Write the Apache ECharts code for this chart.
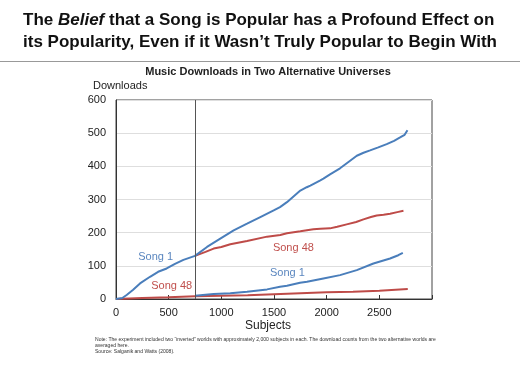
<!DOCTYPE html>
<html><head><meta charset="utf-8">
<script src="https://cdn.jsdelivr.net/npm/echarts@6/dist/echarts.min.js"></script>
<style>html,body{margin:0;padding:0;background:#fff}#c{width:520px;height:371px}</style>
</head><body><div id="c"></div>
<script>
// Data
const splitAt = 750;
const xTicks = [0, 500, 1000, 1500, 2000, 2500];
const song1World1X = [0,60,101,160,228,323,400,481,560,640,750,864,990,1117,1244,1370,1497,1557,1623,1750,1811,1845,1940,1969,2032,2127,2210,2286,2350,2412,2490,2570,2640,2697,2740,2767];
const song1World1Y = [0,3,12,27,47,67,82,92,106,118,130,157,182,207,227,247,267,277,292,327,337,342,358,363,376,394,414,432,441,448,457,467,477,487,495,509];
const song48World1X = [0,250,500,750,1000,1250,1500,1750,2000,2250,2500,2770];
const song48World1Y = [0,3,5,8,10,11,14,17,20,22,25,30];
const song48World2X = [750,850,927,1000,1085,1244,1434,1560,1623,1750,1874,1940,2032,2100,2190,2280,2349,2420,2475,2540,2602,2670,2729];
const song48World2Y = [130,142,152,157,165,175,188,193,198,204,210,212,213,218,225,232,240,247,252,254,257,262,266];
const song1World2X = [750,850,927,1085,1244,1434,1557,1623,1747,1813,1969,2127,2286,2444,2602,2680,2723];
const song1World2Y = [10,13,15,17,22,29,37,40,49,52,62,72,87,107,122,132,139];

const blue = '#4a7ebb', red = '#be4b48';
const blueTxt = '#5a86bf', redTxt = '#c0504d';
const zip = (xs, ys) => xs.map((x, i) => [x, ys[i]]);
const font = '"Liberation Sans", Arial, sans-serif';

function lineSeries(name, xs, ys, color, label, lx, ly) {
  return {
    name, type: 'line', data: zip(xs, ys), showSymbol: false, symbol: 'none',
    lineStyle: {color, width: 2}, itemStyle: {color}, animation: false, z: 3,
    markPoint: label ? {
      symbol: 'circle', symbolSize: 0, silent: true,
      data: [{coord: [lx, ly], value: label}],
      label: {show: true, position: 'inside', formatter: label, color: color === blue ? blueTxt : redTxt, fontSize: 11, fontFamily: font}
    } : undefined
  };
}

const chart = echarts.init(document.getElementById('c'), null, {renderer: 'canvas'});
chart.setOption({
  animation: false,
  textStyle: {fontFamily: font},
  grid: {left: 116, right: 88, top: 100, bottom: 72, show: true, borderColor: '#444', borderWidth: 1, backgroundColor: 'transparent'},
  xAxis: {
    type: 'value', min: 0, max: 3000, interval: 500,
    axisLine: {lineStyle: {color: '#333', width: 1}},
    axisTick: {inside: true, length: 4, lineStyle: {color: '#333'}},
    splitLine: {show: false},
    axisLabel: {color: '#222', fontSize: 11, margin: 8, fontFamily: font, formatter: v => xTicks.includes(v) ? String(v) : ''}
  },
  yAxis: {
    type: 'value', min: 0, max: 600, interval: 100,
    axisLine: {show: true, lineStyle: {color: '#333', width: 1}},
    axisTick: {show: false},
    splitLine: {lineStyle: {color: '#dedede', width: 1}},
    axisLabel: {color: '#222', fontSize: 11, margin: 10, fontFamily: font}
  },
  series: [
    lineSeries('Song 48 (world 1)', song48World1X, song48World1Y, red, 'Song 48', 529, 39),
    lineSeries('Song 1 (world 2)', song1World2X, song1World2Y, blue, 'Song 1', 1627, 78),
    lineSeries('Song 48 (world 2)', song48World2X, song48World2Y, red, 'Song 48', 1684, 155),
    Object.assign(lineSeries('Song 1 (world 1)', song1World1X, song1World1Y, blue, 'Song 1', 377, 128), {
      markLine: {silent: true, symbol: 'none', label: {show: false}, lineStyle: {color: '#555', width: 1, type: 'solid'}, data: [{xAxis: splitAt}]}
    })
  ],
  graphic: [
    {type: 'text', left: 'center', top: 9, style: {
      text: '{b|The }{i|Belief}{b| that a Song is Popular has a Profound Effect on}\n{b|its Popularity, Even if it Wasn\u2019t Truly Popular to Begin With}',
      align: 'center', lineHeight: 22,
      rich: {
        b: {fontSize: 17, fontWeight: 'bold', fontFamily: font, fill: '#111', lineHeight: 22},
        i: {fontSize: 17, fontWeight: 'bold', fontStyle: 'italic', fontFamily: font, fill: '#111', lineHeight: 22}
      }}},
    {type: 'line', shape: {x1: 0, y1: 61.5, x2: 520, y2: 61.5}, style: {stroke: '#999', lineWidth: 1}},
    {type: 'text', x: 268, y: 72, style: {text: 'Music Downloads in Two Alternative Universes', fontSize: 11, fontWeight: 'bold', fontFamily: font, fill: '#222', align: 'center', verticalAlign: 'middle'}},
    {type: 'text', x: 93, y: 86, style: {text: 'Downloads', fontSize: 11, fontFamily: font, fill: '#222', verticalAlign: 'middle'}},
    {type: 'text', x: 268, y: 326, style: {text: 'Subjects', fontSize: 12, fontFamily: font, fill: '#222', align: 'center', verticalAlign: 'middle'}},
    {type: 'text', x: 95, y: 337, style: {
      text: 'Note: The experiment included two \u201cinverted\u201d worlds with approximately 2,000 subjects in each. The download counts from the two alternative worlds are\naveraged here.\nSource: Salganik and Watts (2008).',
      fontSize: 5.05, lineHeight: 5.8, fontFamily: font, fill: '#333'}}
  ]
});
</script></body></html>
